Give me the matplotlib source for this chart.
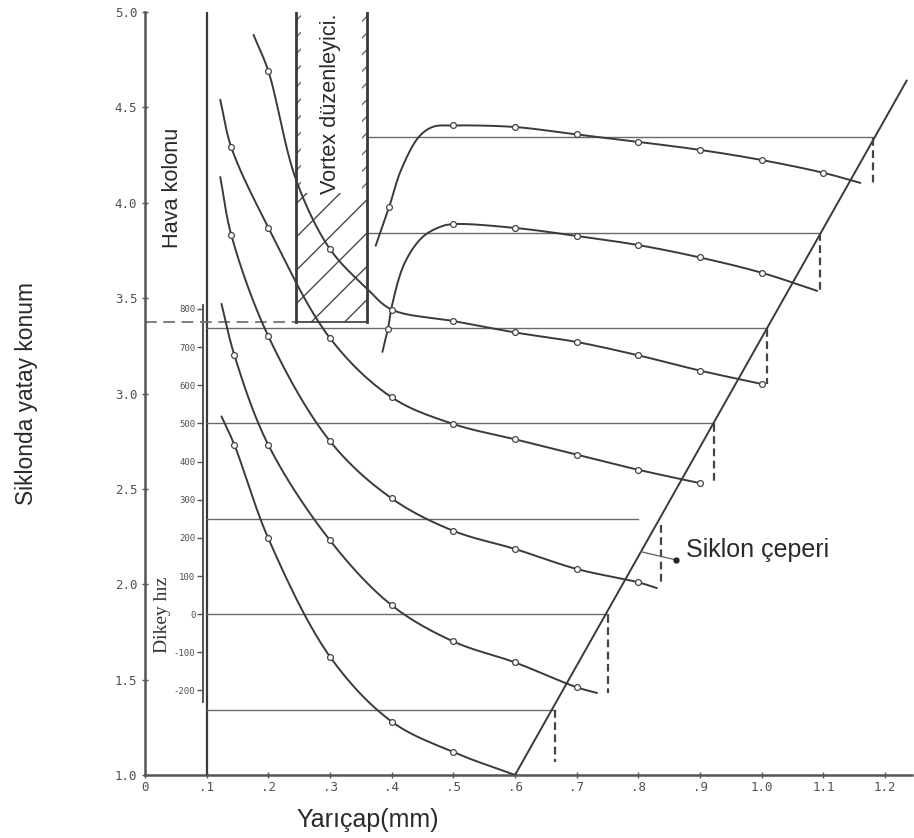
import numpy as np
import matplotlib
matplotlib.use("Agg")
import matplotlib.pyplot as plt
from matplotlib.patches import Rectangle
from matplotlib import font_manager

# ---------------- data ----------------
x_ticks = [0, .1, .2, .3, .4, .5, .6, .7, .8, .9, 1.0, 1.1, 1.2]
x_labels = ["0", ".1", ".2", ".3", ".4", ".5", ".6", ".7", ".8", ".9", "1.0", "1.1", "1.2"]
y_ticks = [1.0, 1.5, 2.0, 2.5, 3.0, 3.5, 4.0, 4.5, 5.0]
y_labels = ["1.0", "1.5", "2.0", "2.5", "3.0", "3.5", "4.0", "4.5", "5.0"]
v_ticks = [800, 700, 600, 500, 400, 300, 200, 100, 0, -100, -200]
v_labels = ["800", "700", "600", "500", "400", "300", "200", "100", "0", "-100", "-200"]

# baselines (Dikey hız units) of the seven profiles
base_v = [-250, 0, 250, 500, 750, 1000, 1250]
base_start_x = [0.1, 0.1, 0.1, 0.1, 0.1, 0.36, 0.36]
base_end_x = [0.665, 0.75, 0.80, 0.922, 1.008, 1.094, 1.18]
# dashed drops at the wall
drop_x = [0.665, 0.75, 0.837, 0.922, 1.008, 1.094, 1.18]
drop_top = [1.34, 1.84, 2.31, 2.84, 3.34, 3.84, 4.34]
drop_bottom = [1.07, 1.43, 1.99, 2.52, 3.05, 3.53, 4.09]

# cyclone wall
wall_x = [0.6, 1.235]
wall_y = [1.0, 4.64]

# profile curves (line points) and their measured points (markers)
c1_x = [0.124, 0.145, 0.2, 0.3, 0.4, 0.5, 0.6]
c1_y = [2.88, 2.73, 2.24, 1.62, 1.28, 1.12, 1.0]
m1_x = [0.145, 0.2, 0.3, 0.4, 0.5]
m1_y = [2.73, 2.24, 1.62, 1.28, 1.12]

c2_x = [0.124, 0.145, 0.2, 0.3, 0.4, 0.5, 0.6, 0.7, 0.733]
c2_y = [3.47, 3.20, 2.73, 2.23, 1.89, 1.70, 1.59, 1.46, 1.43]
m2_x = [0.145, 0.2, 0.3, 0.4, 0.5, 0.6, 0.7]
m2_y = [3.20, 2.73, 2.23, 1.89, 1.70, 1.59, 1.46]

c3_x = [0.122, 0.14, 0.2, 0.3, 0.4, 0.5, 0.6, 0.7, 0.8, 0.83]
c3_y = [4.135, 3.83, 3.30, 2.75, 2.45, 2.28, 2.185, 2.08, 2.01, 1.98]
m3_x = [0.14, 0.2, 0.3, 0.4, 0.5, 0.6, 0.7, 0.8]
m3_y = [3.83, 3.30, 2.75, 2.45, 2.28, 2.185, 2.08, 2.01]

c4_x = [0.122, 0.14, 0.2, 0.3, 0.4, 0.5, 0.6, 0.7, 0.8, 0.9]
c4_y = [4.54, 4.29, 3.87, 3.29, 2.98, 2.84, 2.76, 2.68, 2.60, 2.53]
m4_x = [0.14, 0.2, 0.3, 0.4, 0.5, 0.6, 0.7, 0.8, 0.9]
m4_y = [4.29, 3.87, 3.29, 2.98, 2.84, 2.76, 2.68, 2.60, 2.53]

c5_x = [0.176, 0.2, 0.245, 0.3, 0.36, 0.4, 0.5, 0.6, 0.7, 0.8, 0.9, 1.0]
c5_y = [4.88, 4.69, 4.12, 3.757, 3.55, 3.44, 3.38, 3.32, 3.27, 3.20, 3.12, 3.05]
m5_x = [0.2, 0.3, 0.4, 0.5, 0.6, 0.7, 0.8, 0.9, 1.0]
m5_y = [4.69, 3.757, 3.44, 3.38, 3.32, 3.27, 3.20, 3.12, 3.05]

c6_x = [0.385, 0.394, 0.40, 0.421, 0.45, 0.479, 0.5, 0.6, 0.7, 0.8, 0.9, 1.0, 1.09]
c6_y = [3.218, 3.34, 3.454, 3.684, 3.82, 3.874, 3.888, 3.868, 3.826, 3.778, 3.713, 3.633, 3.538]
m6_x = [0.394, 0.5, 0.6, 0.7, 0.8, 0.9, 1.0]
m6_y = [3.34, 3.888, 3.868, 3.826, 3.778, 3.713, 3.633]

c7_x = [0.374, 0.396, 0.415, 0.444, 0.467, 0.5, 0.6, 0.7, 0.8, 0.9, 1.0, 1.1, 1.16]
c7_y = [3.774, 3.979, 4.17, 4.345, 4.398, 4.405, 4.397, 4.358, 4.319, 4.277, 4.224, 4.157, 4.104]
m7_x = [0.396, 0.5, 0.6, 0.7, 0.8, 0.9, 1.0, 1.1]
m7_y = [3.979, 4.405, 4.397, 4.358, 4.319, 4.277, 4.224, 4.157]

# vortex finder geometry
vortex_x = [0.245, 0.36]
vortex_bottom = 3.375
vortex_hatch_top = 4.05

curves = [(c1_x, c1_y, m1_x, m1_y), (c2_x, c2_y, m2_x, m2_y), (c3_x, c3_y, m3_x, m3_y),
          (c4_x, c4_y, m4_x, m4_y), (c5_x, c5_y, m5_x, m5_y), (c6_x, c6_y, m6_x, m6_y),
          (c7_x, c7_y, m7_x, m7_y)]

# ---------------- helpers ----------------
V0, VK = 1.843, 0.002  # Dikey hız scale vs. main axis


def to_v(y):
    return (np.asarray(y) - V0) / VK


def to_y(v):
    return V0 + VK * np.asarray(v)


SX, SY = 6.17, 1.9075  # aspect (px per unit / 100) for smooth drawing


def smooth(xs, ys, n=24):
    P = np.column_stack([np.asarray(xs, float) * SX, np.asarray(ys, float) * SY])
    P = np.vstack([2 * P[0] - P[1], P, 2 * P[-1] - P[-2]])
    out = []
    for i in range(1, len(P) - 2):
        p0, p1, p2, p3 = P[i - 1], P[i], P[i + 1], P[i + 2]
        t0 = 0.0
        t1 = t0 + max(np.linalg.norm(p1 - p0), 1e-9) ** 0.5
        t2 = t1 + max(np.linalg.norm(p2 - p1), 1e-9) ** 0.5
        t3 = t2 + max(np.linalg.norm(p3 - p2), 1e-9) ** 0.5
        t = np.linspace(t1, t2, n)[:, None]
        A1 = (t1 - t) / (t1 - t0) * p0 + (t - t0) / (t1 - t0) * p1
        A2 = (t2 - t) / (t2 - t1) * p1 + (t - t1) / (t2 - t1) * p2
        A3 = (t3 - t) / (t3 - t2) * p2 + (t - t2) / (t3 - t2) * p3
        B1 = (t2 - t) / (t2 - t0) * A1 + (t - t0) / (t2 - t0) * A2
        B2 = (t3 - t) / (t3 - t1) * A2 + (t - t1) / (t3 - t1) * A3
        C = (t2 - t) / (t2 - t1) * B1 + (t - t1) / (t2 - t1) * B2
        out.append(C if i == len(P) - 3 else C[:-1])
    C = np.vstack(out)
    return C[:, 0] / SX, C[:, 1] / SY


names = {f.name for f in font_manager.fontManager.ttflist}
if "Liberation Sans Narrow" in names:
    NARROW, nscale = "Liberation Sans Narrow", 1.0
else:
    NARROW, nscale = "Liberation Sans", 0.82

INK = "#3a3a3a"
THIN = "#6a6a6a"

# ---------------- figure ----------------
fig = plt.figure(figsize=(9.14, 8.38), dpi=100)
ax = fig.add_axes([145 / 914, 63 / 838, 767 / 914, 763 / 838])
ax.set_xlim(0, 1.2437)
ax.set_ylim(1.0, 5.0)

for s in ["top", "right"]:
    ax.spines[s].set_visible(False)
for s in ["left", "bottom"]:
    ax.spines[s].set_color("#555555")
    ax.spines[s].set_linewidth(1.8)

ax.set_xticks(x_ticks, labels=x_labels)
ax.set_yticks(y_ticks, labels=y_labels)
ax.tick_params(axis="both", direction="inout", length=5, width=1.0, colors="#555555",
               labelsize=9, labelfontfamily="DejaVu Sans Mono", labelcolor="#505050")
ax.tick_params(axis="x", pad=2)
ax.tick_params(axis="y", pad=3)

# air column boundary
ax.axvline(0.1, color=INK, lw=1.6, zorder=2)

# baselines
for v, xs, xe in zip(base_v, base_start_x, base_end_x):
    yb = float(to_y(v))
    ax.plot([xs, xe], [yb, yb], color=THIN, lw=1.0, zorder=2)

# vortex finder bottom (dashed to the axis)
ax.plot([0.0, vortex_x[0]], [vortex_bottom, vortex_bottom], color=THIN, lw=1.2,
        ls=(0, (7, 4)), zorder=2)
ax.plot(vortex_x, [vortex_bottom, vortex_bottom], color=INK, lw=1.2, zorder=3)
for vx in vortex_x:
    ax.plot([vx, vx], [vortex_bottom, 5.0], color=INK, lw=2.0, zorder=3)
ax.add_patch(Rectangle((vortex_x[0], vortex_bottom), vortex_x[1] - vortex_x[0],
                       vortex_hatch_top - vortex_bottom, fill=False, hatch="/",
                       edgecolor="#4a4a4a", lw=0, zorder=2))
ax.add_patch(Rectangle((vortex_x[0], vortex_hatch_top), 0.008, 5.0 - vortex_hatch_top,
                       fill=False, hatch="//", edgecolor="#6a6a6a", lw=0, zorder=2))
ax.add_patch(Rectangle((vortex_x[1] - 0.008, vortex_hatch_top), 0.008, 5.0 - vortex_hatch_top,
                       fill=False, hatch="//", edgecolor="#6a6a6a", lw=0, zorder=2))
plt.rcParams["hatch.linewidth"] = 1.0

# cyclone wall
ax.plot(wall_x, wall_y, color=INK, lw=1.4, zorder=3)

# dashed drops
for dx, dt, db in zip(drop_x, drop_top, drop_bottom):
    ax.plot([dx, dx], [dt, db], color="#444444", lw=1.6, ls=(0, (3.5, 2)), zorder=3)

# profiles
for cx, cy, mx, my in curves:
    sx, sy = smooth(cx, cy)
    ax.plot(sx, sy, color=INK, lw=1.4, zorder=4, solid_capstyle="round")
    ax.plot(mx, my, ls="none", marker="o", ms=4.2, mfc="white", mec="#444444",
            mew=0.9, zorder=5)

# secondary (Dikey hız) scale
sec = ax.secondary_yaxis(0.094 / 1.2437, functions=(to_v, to_y))
sec.set_ticks(v_ticks, labels=v_labels)
sec.spines["left"].set_bounds(-230, 810)
sec.spines["left"].set_color("#555555")
sec.spines["left"].set_linewidth(1.4)
sec.tick_params(direction="out", length=4, width=1.0, colors="#555555", labelsize=6.5,
                labelfontfamily="DejaVu Sans Mono", labelcolor="#505050", pad=1.5)
sec.yaxis.set_minor_locator(matplotlib.ticker.NullLocator())

# texts
ax.text(0.029, 1.84, "Dikey hız", rotation=90, ha="center", va="center",
        fontsize=14, family="Liberation Serif", color="#333333")
ax.text(0.045, 4.08, "Hava kolonu", rotation=90, ha="center", va="center",
        fontsize=19 * nscale, family=NARROW, color="#2a2a2a")
ax.text(0.30, 4.52, "Vortex düzenleyici.", rotation=90, ha="center", va="center",
        fontsize=19 * nscale, family=NARROW, color="#2a2a2a")
ax.plot([0.805, 0.858], [2.17, 2.13], color=THIN, lw=1.0, zorder=3)
ax.plot([0.861], [2.127], ls="none", marker="o", ms=3.5, color="#222222", zorder=5)
ax.text(0.878, 2.18, "Siklon çeperi", ha="left", va="center", fontsize=18,
        family="Liberation Sans", color="#2a2a2a")

fig.text(368 / 914, 1 - 820 / 838, "Yarıçap(mm)", ha="center", va="center",
         fontsize=18, family="Liberation Sans", color="#2a2a2a")
fig.text(27 / 914, 1 - 393 / 838, "Siklonda yatay konum", rotation=90, ha="center",
         va="center", fontsize=20 * nscale, family=NARROW, color="#2a2a2a")

fig.savefig("out.png", dpi=100)
